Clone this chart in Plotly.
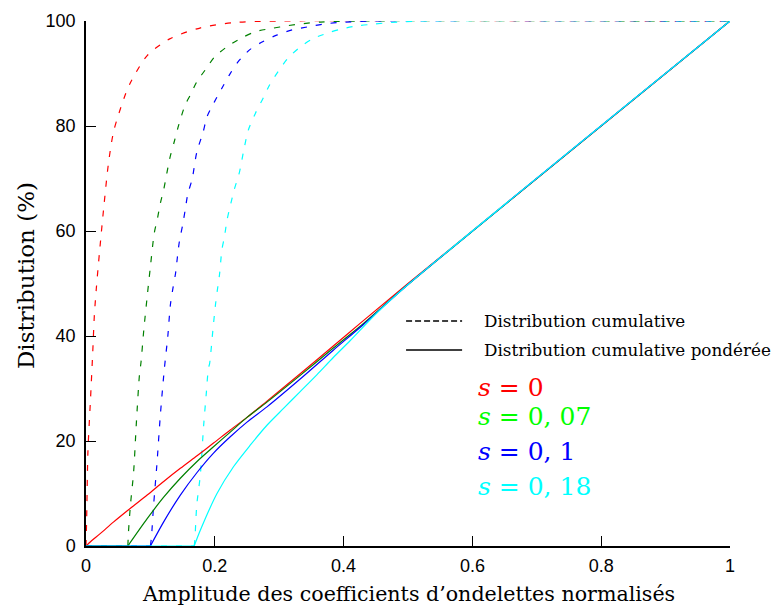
import plotly.graph_objects as go

# ---- data ----
red_dash_x = [0, 0.001, 0.003, 0.007, 0.0105, 0.013, 0.016, 0.021, 0.028, 0.035, 0.043, 0.059, 0.068, 0.095, 0.13, 0.178, 0.229, 0.3, 1.0]
red_dash_y = [0, 5, 18, 28, 37, 44, 49, 56, 65, 73, 79, 85.3, 88, 93.4, 96.6, 98.7, 99.7, 100, 100]

green_dash_x = [0, 0.065, 0.066, 0.069, 0.074, 0.078, 0.083, 0.0855, 0.0897, 0.095, 0.100, 0.106, 0.111, 0.1155, 0.121,
                0.130, 0.137, 0.144, 0.154, 0.162, 0.172, 0.187, 0.200, 0.219, 0.242, 0.264, 0.289, 0.313, 0.337, 0.364, 0.42, 1.0]
green_dash_y = [0, 0, 2.7, 7.8, 14.2, 23, 32.6, 35.1, 41.1, 47.5, 53.2, 59.6, 62.4, 65.3, 68.1,
                73.8, 77, 80.2, 84, 85.9, 88.4, 91, 93.2, 95.1, 96.8, 98, 98.6, 99.1, 99.5, 99.8, 100, 100]

blue_dash_x = [0, 0.100, 0.1015, 0.105, 0.110, 0.1155, 0.1217, 0.127, 0.131, 0.135, 0.139, 0.142, 0.145, 0.150, 0.154,
               0.158, 0.165, 0.172, 0.182, 0.188, 0.199, 0.211, 0.2225, 0.236, 0.255, 0.275, 0.296, 0.320, 0.345, 0.368, 0.392, 0.45, 1.0]
blue_dash_y = [0, 0, 1.5, 7.8, 15.4, 25, 33.8, 39.9, 45.9, 49.1, 51.9, 55.1, 58, 61.1, 64,
               67, 70, 75.0, 78.9, 81.8, 84.5, 87.2, 89.7, 92.2, 94.6, 96.1, 97.3, 98.3, 98.9, 99.4, 99.7, 100, 100]

cyan_dash_x = [0, 0.168, 0.169, 0.172, 0.1775, 0.1827, 0.187, 0.190, 0.192, 0.197, 0.201, 0.204, 0.2075, 0.211, 0.215,
               0.219, 0.225, 0.230, 0.2385, 0.2447, 0.252, 0.263, 0.275, 0.285, 0.299, 0.3135, 0.331, 0.352, 0.375,
               0.397, 0.423, 0.447, 0.472, 0.523, 1.0]
cyan_dash_y = [0, 0, 1.1, 7.8, 13.5, 23, 29.4, 33.8, 34.8, 41.1, 45.9, 48.8, 51.9, 56.4, 58.9,
               62.1, 65.3, 67.8, 71.3, 75.2, 79.2, 82.4, 85.3, 87.8, 90.5, 92.9, 94.9, 96.6, 97.7,
               98.5, 99.1, 99.4, 99.7, 100, 100]

red_w_x = [0, 0.007, 0.0225, 0.043, 0.069, 0.095, 0.1206, 0.1465, 0.1724, 0.198, 0.224, 0.25, 0.281, 0.3326, 0.384, 0.4256, 0.5, 1.0]
red_w_y = [0, 0.8, 2.4, 4.6, 7.2, 9.7, 12.3, 14.8, 17.2, 19.6, 22.1, 24.5, 27.6, 32.8, 38.1, 42.4, 50.0, 100]

green_w_x = [0, 0.065, 0.095, 0.1206, 0.1465, 0.1724, 0.198, 0.224, 0.25, 0.281, 0.3326, 0.384, 0.43, 0.5, 1.0]
green_w_y = [0, 0, 5.2, 9.3, 12.9, 16.1, 18.9, 21.7, 24.5, 27.4, 32.5, 37.7, 42.3, 49.8, 100]

blue_w_x = [0, 0.100, 0.1206, 0.1465, 0.1724, 0.198, 0.224, 0.25, 0.281, 0.3326, 0.384, 0.43, 0.5, 1.0]
blue_w_y = [0, 0, 4.6, 9.7, 14.0, 17.7, 20.8, 23.6, 26.5, 31.8, 37.3, 42.1, 49.8, 100]

cyan_w_x = [0, 0.168, 0.1775, 0.2034, 0.229, 0.255, 0.281, 0.3067, 0.3326, 0.3584, 0.384, 0.41, 0.45, 0.5, 1.0]
cyan_w_y = [0, 0, 3, 10, 15.1, 19.2, 23, 26.2, 29.4, 32.6, 35.9, 39.1, 44.2, 49.8, 100]

x_ticks = [0, 0.2, 0.4, 0.6, 0.8, 1]
x_tick_labels = ["0", "0.2", "0.4", "0.6", "0.8", "1"]
y_ticks = [0, 20, 40, 60, 80, 100]
y_tick_labels = ["0", "20", "40", "60", "80", "100"]

s_labels = ["<i>s</i> = 0", "<i>s</i> = 0, 07", "<i>s</i> = 0, 1", "<i>s</i> = 0, 18"]
legend_labels = ["Distribution cumulative", "Distribution cumulative pondérée"]
x_title = "Amplitude des coefficients d’ondelettes normalisés"
y_title = "Distribution (%)"

line_colors = ["#ff0000", "#008000", "#0000ff", "#00ffff"]
text_colors = ["#ff0000", "#00ff00", "#0000ff", "#00ffff"]

dash_series = [(red_dash_x, red_dash_y), (green_dash_x, green_dash_y), (blue_dash_x, blue_dash_y), (cyan_dash_x, cyan_dash_y)]
w_series = [(red_w_x, red_w_y), (green_w_x, green_w_y), (blue_w_x, blue_w_y), (cyan_w_x, cyan_w_y)]


def add_curve(fig, xs, ys, color, dash):
    # flat zero part drawn straight, rising part smoothed
    k = next(i for i, v in enumerate(ys) if v > 0)
    if k >= 2:
        fig.add_trace(go.Scatter(x=xs[:k], y=ys[:k], mode="lines",
                                 line=dict(color=color, width=1.2, dash=dash),
                                 showlegend=False, hoverinfo="skip"))
    fig.add_trace(go.Scatter(x=xs[k - 1:], y=ys[k - 1:], mode="lines",
                             line=dict(color=color, width=1.2, dash=dash, shape="spline", smoothing=0.8),
                             showlegend=False, hoverinfo="skip"))


fig = go.Figure()
for (xs, ys), c in zip(dash_series, line_colors):
    add_curve(fig, xs, ys, c, "6px,9px")
for (xs, ys), c in zip(w_series, line_colors):
    add_curve(fig, xs, ys, c, "solid")

serif = "DejaVu Serif, Liberation Serif, serif"
sans = "Liberation Sans, Arial, sans-serif"

# legend samples
leg_y = [0.4286, 0.3733]
for yy, d in zip(leg_y, ["6px,3px", "solid"]):
    fig.add_shape(type="line", xref="paper", yref="paper", x0=0.497, x1=0.584, y0=yy, y1=yy,
                  line=dict(color="black", width=1.5, dash=d))
for yy, t in zip(leg_y, legend_labels):
    fig.add_annotation(text=t, xref="paper", yref="paper", x=0.615, y=yy, xanchor="left", yanchor="middle",
                       showarrow=False, font=dict(family=serif, size=16.8, color="black"))

s_y = [0.301, 0.246, 0.18, 0.113]
for yy, t, c in zip(s_y, s_labels, text_colors):
    fig.add_annotation(text=t, xref="paper", yref="paper", x=0.606, y=yy, xanchor="left", yanchor="middle",
                       showarrow=False, font=dict(family=serif, size=25, color=c))

# axis titles
fig.add_annotation(text=x_title, xref="paper", yref="paper", x=0.5, y=-0.092, xanchor="center", yanchor="middle",
                   showarrow=False, font=dict(family=serif, size=20.6, color="black"))
fig.add_annotation(text=y_title, xref="paper", yref="paper", x=-0.094, y=0.515, xanchor="center", yanchor="middle",
                   textangle=-90, showarrow=False, font=dict(family=serif, size=23, color="black"))

# page body has an 8px margin: figure is 771x598, offset by 8px in the window
fig.update_layout(
    width=771, height=598,
    margin=dict(l=77.5, r=49, t=13, b=60, autoexpand=False),
    paper_bgcolor="white", plot_bgcolor="white",
    xaxis=dict(range=[0, 1], tickvals=x_ticks, ticktext=x_tick_labels, showgrid=False, zeroline=False,
               showline=True, linecolor="black", linewidth=1.5, ticks="inside", ticklen=10, tickwidth=1.2,
               tickcolor="black", tickfont=dict(family=sans, size=18, color="black"),
               automargin=False, ticklabelstandoff=3),
    yaxis=dict(range=[0, 100], tickvals=y_ticks, ticktext=y_tick_labels, showgrid=False, zeroline=False,
               showline=True, linecolor="black", linewidth=1.5, ticks="inside", ticklen=10, tickwidth=1.2,
               tickcolor="black", tickfont=dict(family=sans, size=18, color="black"),
               automargin=False, ticklabelstandoff=5),
)

fig.write_html("out.html")
